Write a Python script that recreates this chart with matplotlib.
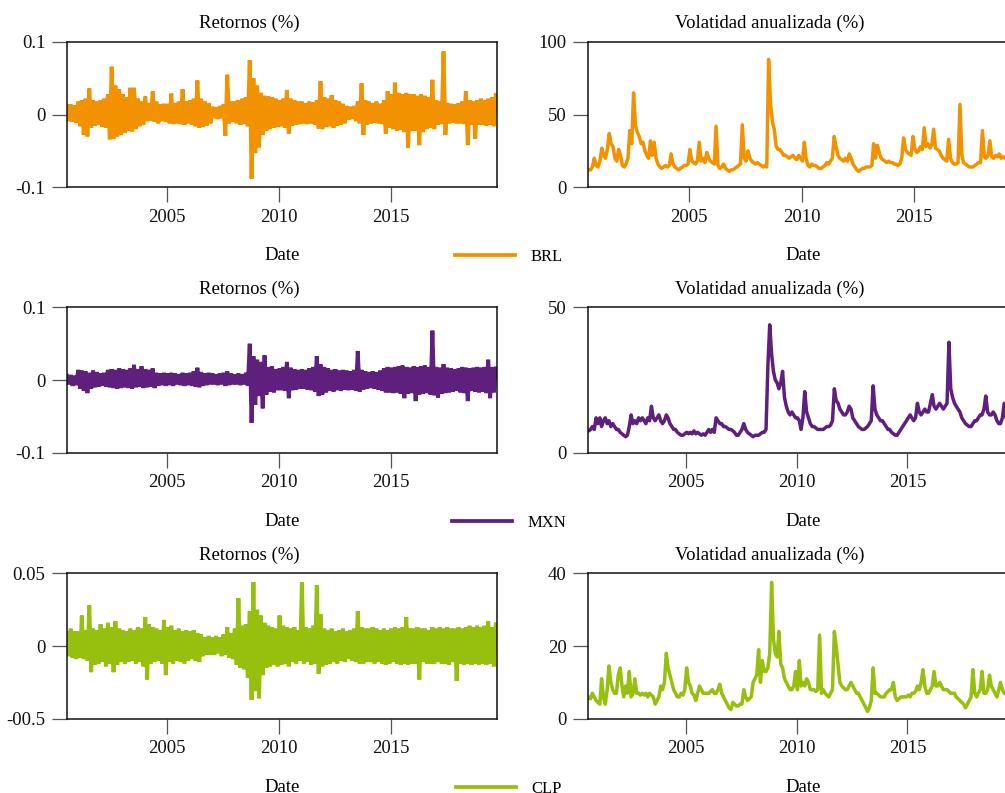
import matplotlib

matplotlib.use("Agg")
import matplotlib.dates as mdates
import matplotlib.pyplot as plt
import numpy as np
import pandas as pd
from matplotlib.lines import Line2D

plt.rcParams["font.family"] = ["Liberation Serif", "DejaVu Serif"]
plt.rcParams["font.size"] = 13.5

# monthly dates, mid-month, Jul 2000 .. Sep 2019
DATES = pd.date_range("2000-07-01", periods=231, freq="MS") + pd.Timedelta(days=14)

# monthly return extremes in thousandths, alternating high / low
BRL_RET = [
    12, -9, 14, -10, 13, -11,
    18, -16, 20, -28, 22, -30, 36, -18, 20, -15, 18, -14,
    20, -17, 22, -18, 28, -34, 66, -33, 40, -30, 35, -28,
    28, -25, 24, -22, 37, -23, 37, -20, 22, -16, 18, -14,
    25, -9, 16, -8, 32, -10, 18, -12, 14, -9, 15, -10,
    15, -12, 29, -13, 16, -12, 18, -13, 35, -14, 18, -12,
    20, -14, 22, -16, 47, -18, 22, -17, 18, -15, 16, -12,
    11, -5, 10, -6, 12, -5, 14, -29, 55, -12, 18, -10,
    18, -12, 20, -14, 22, -13, 24, -16, 75, -88, 50, -53,
    40, -45, 30, -28, 26, -22, 25, -20, 24, -18, 22, -17,
    20, -16, 22, -18, 34, -26, 22, -15, 20, -14, 18, -13,
    18, -12, 16, -13, 18, -12, 17, -14, 20, -19, 46, -20,
    24, -17, 22, -16, 27, -18, 20, -15, 18, -14, 15, -12,
    12, -7, 11, -6, 12, -9, 18, -12, 43, -28, 20, -14,
    18, -12, 16, -11, 18, -12, 15, -13, 20, -26, 32, -18,
    28, -20, 44, -22, 30, -21, 28, -24, 30, -46, 28, -22,
    28, -22, 26, -42, 28, -24, 26, -20, 24, -18, 48, -20,
    20, -14, 18, -13, 87, -28, 16, -12, 15, -11, 14, -12,
    16, -12, 18, -13, 32, -42, 20, -14, 18, -33, 20, -14,
    22, -14, 20, -15, 22, -14, 24, -16, 27,
]
MXN_RET = [
    6, -6, 7, -8, 6, -7,
    14, -12, 13, -15, 12, -18, 10, -12, 13, -10, 11, -9,
    9, -8, 10, -9, 14, -10, 15, -11, 14, -12, 16, -11,
    15, -10, 14, -11, 16, -12, 21, -10, 15, -9, 19, -11,
    15, -10, 14, -9, 16, -11, 10, -8, 9, -7, 10, -8,
    9, -7, 10, -8, 9, -6, 8, -7, 10, -8, 9, -7,
    10, -8, 12, -9, 17, -10, 11, -8, 9, -7, 10, -6,
    9, -6, 8, -7, 9, -6, 10, -8, 12, -7, 9, -6,
    8, -6, 9, -7, 8, -6, 10, -8, 50, -59, 33, -34,
    28, -22, 25, -39, 34, -20, 18, -16, 19, -17, 15, -14,
    16, -14, 18, -15, 25, -25, 17, -14, 15, -13, 14, -12,
    15, -12, 14, -13, 16, -14, 18, -16, 33, -22, 22, -20,
    18, -17, 16, -15, 14, -16, 15, -14, 13, -15, 14, -13,
    13, -14, 12, -13, 14, -15, 40, -16, 14, -13, 12, -12,
    11, -11, 12, -12, 11, -13, 13, -15, 16, -17, 18, -17,
    17, -18, 18, -17, 19, -19, 20, -25, 18, -19, 17, -18,
    19, -29, 18, -20, 19, -19, 20, -18, 18, -20, 68, -21,
    18, -24, 17, -19, 22, -18, 17, -17, 16, -16, 15, -15,
    16, -17, 18, -18, 17, -29, 16, -15, 17, -16, 18, -17,
    17, -16, 18, -18, 28, -25, 18, -17, 16,
]
CLP_RET = [
    9, -7, 12, -8, 10, -9,
    10, -8, 21, -9, 11, -10, 28, -18, 12, -13, 11, -12,
    15, -11, 12, -14, 16, -12, 13, -18, 17, -13, 12, -11,
    11, -12, 10, -11, 12, -10, 11, -12, 13, -11, 12, -14,
    20, -23, 15, -12, 13, -11, 12, -10, 11, -12, 18, -20,
    13, -11, 14, -12, 11, -10, 12, -11, 10, -12, 11, -10,
    10, -9, 11, -10, 9, -11, 8, -7, 6, -6, 7, -6,
    6, -6, 7, -5, 6, -7, 8, -6, 13, -8, 9, -9,
    12, -13, 33, -15, 14, -16, 15, -22, 24, -37, 44, -31,
    25, -36, 21, -20, 16, -15, 14, -14, 13, -13, 12, -14,
    21, -13, 14, -12, 13, -14, 12, -11, 13, -12, 11, -10,
    44, -12, 13, -11, 12, -13, 14, -12, 42, -19, 22, -14,
    12, -13, 11, -12, 12, -11, 10, -12, 11, -10, 12, -11,
    10, -9, 11, -10, 12, -11, 24, -12, 13, -12, 12, -11,
    12, -11, 13, -12, 12, -11, 11, -12, 12, -13, 11, -12,
    12, -11, 13, -12, 12, -13, 13, -12, 20, -13, 12, -12,
    12, -12, 13, -23, 12, -11, 12, -12, 11, -12, 13, -12,
    12, -11, 13, -12, 12, -12, 13, -13, 12, -11, 12, -24,
    13, -12, 12, -13, 13, -12, 14, -13, 13, -12, 14, -13,
    13, -12, 14, -13, 17, -12, 13, -14, 15,
]

# monthly annualised volatility (%)
BRL_VOL = [
    12, 12, 14, 20, 15, 14,
    18, 27, 22, 20, 26, 37, 30, 28, 20, 18, 26, 22,
    15, 14, 16, 20, 39, 30, 65, 42, 38, 35, 30, 31,
    25, 22, 20, 32, 22, 31, 20, 16, 14, 13, 14, 15,
    14, 15, 23, 16, 14, 13, 12, 13, 14, 15, 15, 16,
    26, 18, 17, 16, 18, 31, 18, 20, 17, 24, 20, 18,
    17, 16, 42, 15, 13, 14, 16, 13, 12, 11, 12, 12,
    13, 14, 15, 16, 43, 20, 18, 25, 20, 18, 17, 16,
    17, 16, 15, 14, 15, 14, 88, 58, 45, 40, 28, 26,
    26, 24, 22, 22, 21, 20, 21, 22, 20, 19, 22, 20,
    18, 31, 20, 15, 14, 16, 15, 15, 14, 13, 13, 14,
    15, 17, 16, 18, 20, 35, 28, 22, 20, 19, 18, 20,
    18, 23, 20, 16, 14, 12, 11, 12, 13, 13, 14, 14,
    14, 15, 30, 20, 29, 24, 20, 19, 18, 17, 18, 17,
    17, 16, 16, 15, 16, 20, 34, 26, 24, 23, 22, 35,
    26, 24, 25, 28, 26, 41, 28, 30, 27, 29, 40, 27,
    26, 25, 22, 20, 19, 18, 33, 20, 17, 16, 16, 17,
    57, 22, 17, 16, 15, 14, 14, 14, 15, 16, 17, 17,
    39, 21, 20, 22, 32, 21, 20, 22, 21, 23, 20, 21,
    20, 19, 18, 19, 18, 18, 18, 18, 18,
]
MXN_VOL = [
    8, 7.5, 8, 9, 8, 12,
    10, 12, 9, 11, 12, 10, 11, 9, 10, 9, 8, 8,
    7, 6.5, 6, 5.5, 6, 9, 13, 10, 11, 10, 12, 11,
    12, 11, 10, 12, 11, 16, 12, 11, 12, 13, 11, 10,
    11, 13, 12, 10, 9, 8, 8, 7, 6.5, 6, 6, 6.5,
    7, 6.5, 7, 6.5, 7.5, 6.5, 7, 6.5, 6, 6.5, 6, 7,
    8, 7, 8, 7, 12, 11, 10, 10, 9, 9, 8.5, 8,
    8, 7.5, 7, 6, 6, 7, 8, 10, 8, 7, 6.5, 6,
    5.5, 6, 6, 6, 6.5, 7, 7, 8, 30, 44, 34, 28,
    25, 24, 22, 24, 28, 19, 16, 14, 13, 14, 13, 12,
    12, 11, 8, 12, 21, 14, 12, 10, 9, 9, 8.5, 8,
    8, 8, 8, 8.5, 9, 9, 9.5, 11, 22, 18, 17, 15,
    14, 13, 13, 14, 16, 15, 12, 11, 10, 9, 8.5, 8,
    8, 8.5, 9, 10, 11, 23, 15, 13, 12, 11, 11, 10,
    9, 8, 8, 7, 6.5, 6, 6, 7, 8, 9, 10, 11,
    12, 13, 12, 11, 12, 17, 14, 13, 14, 15, 14, 14,
    17, 20, 16, 15, 16, 17, 16, 15, 16, 17, 38, 22,
    19, 17, 16, 15, 14, 12, 11, 10, 9.5, 9, 9, 10,
    11, 11, 12, 13, 13, 15, 19.5, 14, 13, 13, 14, 13,
    11, 10, 10, 12, 17, 12, 11, 11, 11,
]
CLP_VOL = [
    5, 6, 5.5, 7, 6, 5,
    4.5, 4, 11, 6, 4, 8, 14.5, 10, 8, 7, 7, 12,
    14, 9, 6, 9, 7, 13, 6, 7, 11, 7, 7, 6.5,
    7, 6.5, 7, 6, 7, 6.5, 6, 4, 5, 6, 9, 8,
    10, 18, 14, 12, 10, 8, 7, 6, 6, 7, 6.5, 8,
    14, 10, 9, 7, 6.5, 5, 7, 9, 8, 7, 7, 7,
    7, 7.5, 8, 7, 7, 8, 9.5, 7, 6, 5, 4, 3,
    2.5, 4.5, 4, 3.5, 3.5, 4, 4, 8, 6, 5, 5.5, 6,
    10, 11, 12, 19, 10, 16, 13, 13, 14, 18, 37.5, 22,
    18, 17, 24, 15, 14, 11, 10, 9, 8, 8, 9, 13,
    8, 16, 9, 10, 9, 11, 10, 8, 8, 8, 7.5, 8,
    23, 7, 8, 7, 6.5, 6, 7, 8, 24, 20, 15, 10,
    9, 8.5, 8, 8, 9, 10, 9, 8, 7, 7, 6, 5,
    4, 3, 2, 3, 5, 14, 7, 7, 6.5, 6, 6, 6,
    7, 7.5, 8, 8, 10, 6, 5, 5.5, 6, 6, 6, 6,
    6.5, 6, 7, 7, 7.5, 9, 8, 10, 13.5, 9, 7, 7,
    8, 9, 13, 9, 9, 10, 9, 8, 8, 8, 7.5, 7,
    7, 7, 6, 5.5, 5, 4.5, 4, 3, 4, 5, 6, 13.5,
    7, 6, 7, 8, 13, 7, 7, 8, 12, 9, 8, 7,
    6, 8, 10, 8, 7, 7, 7, 7, 7,
]

CURRENCIES = ["BRL", "MXN", "CLP"]
COLORS = ["#F39200", "#5F1F7C", "#97BF0D"]
RETURNS = [BRL_RET, MXN_RET, CLP_RET]
VOLS = [BRL_VOL, MXN_VOL, CLP_VOL]

RET_TICKS = [[-0.1, 0, 0.1], [-0.1, 0, 0.1], [-0.05, 0, 0.05]]
RET_LABELS = [["-0.1", "0", "0.1"], ["-0.1", "0", "0.1"], ["-00.5", "0", "0.05"]]
VOL_TICKS = [[0, 50, 100], [0, 50], [0, 20, 40]]
VOL_LABELS = [["0", "50", "100"], ["0", "50"], ["0", "20", "40"]]


def year_to_date(y: float) -> pd.Timestamp:
    return pd.Timestamp("2000-01-01") + pd.Timedelta(days=(y - 2000.0) * 365.25)


LEFT_XLIM = (2000.54, 2019.76)
RIGHT_XLIM = [(2000.51, 2019.62), (2000.59, 2019.99), (2000.59, 2019.99)]

W, H = 1005, 793
ROW_BOTTOM_PX = [187.3, 452.7, 718.7]
AX_H_PX = 145.3
AX_W_PX = 430


def style_axis(ax, xlim, ticks, labels, title):
    ax.set_xlim(year_to_date(xlim[0]), year_to_date(xlim[1]))
    ax.set_ylim(ticks[0], ticks[-1])
    ax.set_yticks(ticks)
    ax.set_yticklabels(labels)
    ax.xaxis.set_major_locator(mdates.YearLocator(5))
    ax.xaxis.set_major_formatter(mdates.DateFormatter("%Y"))
    ax.tick_params(axis="both", direction="out", length=10.5, width=0.9,
                   color="#555555", pad=5, labelsize=13.5, labelcolor="#111111")
    for sp in ax.spines.values():
        sp.set_linewidth(1.1)
        sp.set_color("#111111")
    # titles sit a little left of the axes centre in the original
    ax.set_title(title, x=0.423, pad=10, fontsize=13.5)
    ax.set_xlabel("Date", labelpad=15.5, fontsize=13.5)


fig = plt.figure(figsize=(W / 100, H / 100), dpi=100)

for row, (name, color) in enumerate(zip(CURRENCIES, COLORS)):
    bottom = 1 - ROW_BOTTOM_PX[row] / H
    height = AX_H_PX / H

    ax_ret = fig.add_axes([67 / W, bottom, AX_W_PX / W, height])
    ax_ret.plot(DATES, np.array(RETURNS[row]) / 1000.0, color=color, lw=2.8,
                solid_joinstyle="miter")
    style_axis(ax_ret, LEFT_XLIM, RET_TICKS[row], RET_LABELS[row], "Retornos (%)")

    ax_vol = fig.add_axes([588 / W, bottom, AX_W_PX / W, height])
    ax_vol.plot(DATES, VOLS[row], color=color, lw=2.5)
    style_axis(ax_vol, RIGHT_XLIM[row], VOL_TICKS[row], VOL_LABELS[row],
               "Volatidad anualizada (%)")

    legend_y = 1 - (ROW_BOTTOM_PX[row] + 70.0) / H
    fig.legend(handles=[Line2D([], [], color=color, lw=2.7)], labels=[name],
               loc="center", bbox_to_anchor=(509 / W, legend_y), frameon=False,
               handlelength=3.6, handletextpad=0.9, fontsize=12)

fig.savefig("out.png", dpi=100)
